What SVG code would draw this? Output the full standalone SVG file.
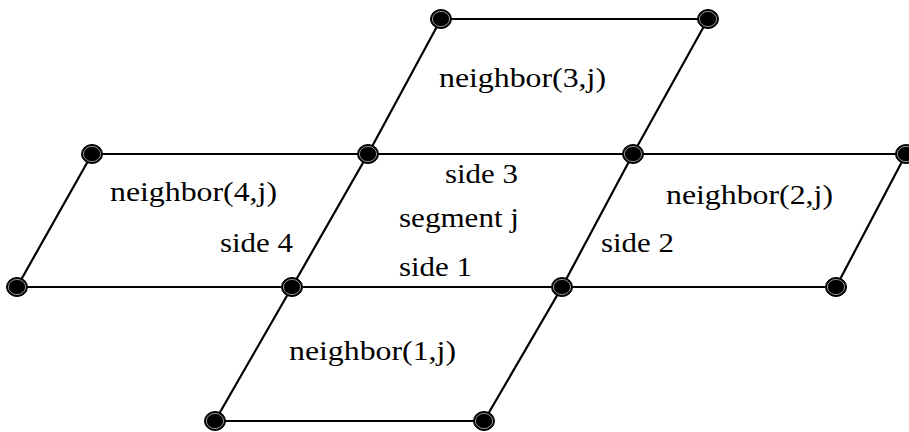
<svg xmlns="http://www.w3.org/2000/svg" width="909" height="432" viewBox="0 0 909 432">
<defs>
<style>
.edge{stroke:#000;stroke-width:2.2;fill:none;stroke-linecap:round}
.dot{fill:#000;stroke:#000;stroke-width:1}
.ring{fill:none;stroke:#b8b8b8;stroke-width:0.8}
</style>
<g id="dotshape">
<ellipse class="dot" cx="0" cy="0" rx="10.5" ry="9.5"/>
<ellipse class="ring" cx="0" cy="0" rx="8.6" ry="7.6"/>
</g>
</defs>
<rect width="909" height="432" fill="#fff"/>
<g id="connectors">
<line class="edge" x1="441" y1="19" x2="708" y2="19"/>
<line class="edge" x1="92" y1="154" x2="906" y2="154"/>
<line class="edge" x1="17" y1="287" x2="836" y2="287"/>
<line class="edge" x1="215" y1="421" x2="484" y2="421"/>
<line class="edge" x1="441" y1="19" x2="368" y2="154"/>
<line class="edge" x1="708" y1="19" x2="633" y2="154"/>
<line class="edge" x1="92" y1="154" x2="17" y2="287"/>
<line class="edge" x1="368" y1="154" x2="292" y2="287"/>
<line class="edge" x1="633" y1="154" x2="562" y2="287"/>
<line class="edge" x1="906" y1="154" x2="836" y2="287"/>
<line class="edge" x1="292" y1="287" x2="215" y2="421"/>
<line class="edge" x1="562" y1="287" x2="484" y2="421"/>
</g>
<g id="n1"><use href="#dotshape" x="441" y="19"/></g>
<g id="n2"><use href="#dotshape" x="708" y="19"/></g>
<g id="n3"><use href="#dotshape" x="92" y="154"/></g>
<g id="n4"><use href="#dotshape" x="368" y="154"/></g>
<g id="n5"><use href="#dotshape" x="633" y="154"/></g>
<g id="n6"><use href="#dotshape" x="906" y="154"/></g>
<g id="n7"><use href="#dotshape" x="17" y="287"/></g>
<g id="n8"><use href="#dotshape" x="292" y="287"/></g>
<g id="n9"><use href="#dotshape" x="562" y="287"/></g>
<g id="n10"><use href="#dotshape" x="836" y="287"/></g>
<g id="n11"><use href="#dotshape" x="215" y="421"/></g>
<g id="n12"><use href="#dotshape" x="484" y="421"/></g>
<g id="labels" font-family="'Liberation Serif', 'Times New Roman', serif" font-size="27" fill="#000">
<text x="439" y="87" textLength="167" lengthAdjust="spacingAndGlyphs">neighbor(3,j)</text>
<text x="445" y="183" textLength="73" lengthAdjust="spacingAndGlyphs">side 3</text>
<text x="110" y="201" textLength="167" lengthAdjust="spacingAndGlyphs">neighbor(4,j)</text>
<text x="666" y="204" textLength="167" lengthAdjust="spacingAndGlyphs">neighbor(2,j)</text>
<text x="399" y="227" textLength="120" lengthAdjust="spacingAndGlyphs">segment j</text>
<text x="220" y="252" textLength="73" lengthAdjust="spacingAndGlyphs">side 4</text>
<text x="601" y="252" textLength="73" lengthAdjust="spacingAndGlyphs">side 2</text>
<text x="399" y="276" textLength="73" lengthAdjust="spacingAndGlyphs">side 1</text>
<text x="289" y="360" textLength="167" lengthAdjust="spacingAndGlyphs">neighbor(1,j)</text>
</g>
</svg>
